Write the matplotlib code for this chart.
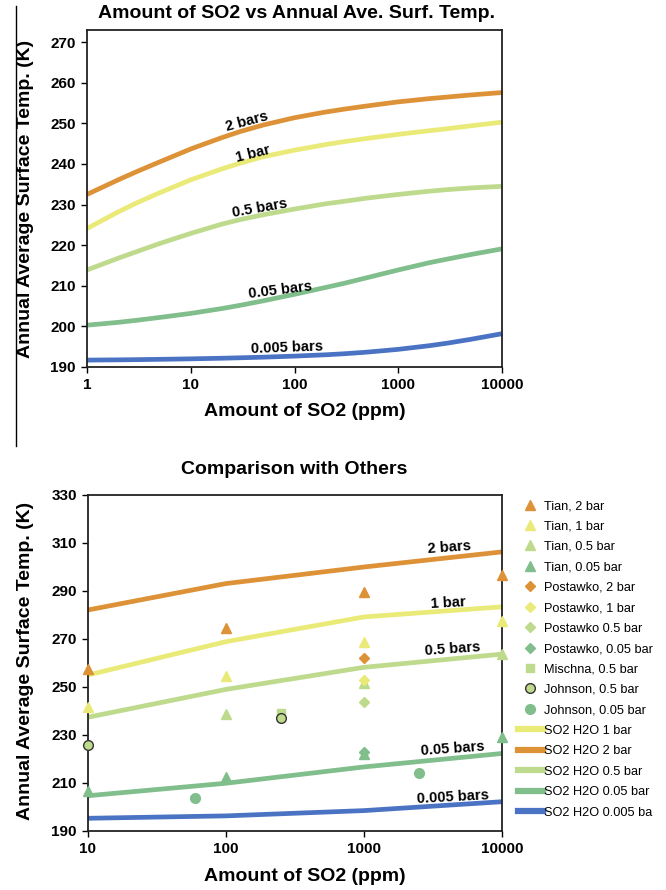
"""Recreate the SO2 vs annual average surface temperature figure (two panels)."""

import matplotlib

matplotlib.use("Agg")
import matplotlib.pyplot as plt
from matplotlib.lines import Line2D

plt.rcParams["font.family"] = ["Liberation Sans", "DejaVu Sans"]

# ---- top panel: smoothed model curves ----
top_ppm = [1, 2, 3, 5, 10, 20, 30, 50, 100, 200, 300, 500, 1000, 2000, 3000, 5000, 10000]
top_2bar = [232.5, 236.1, 238.1, 240.5, 243.7, 246.5, 248.0, 249.6, 251.4,
            252.8, 253.5, 254.3, 255.3, 256.1, 256.5, 257.0, 257.6]
top_1bar = [224.1, 228.2, 230.4, 232.9, 236.1, 238.8, 240.2, 241.8, 243.4,
            244.8, 245.5, 246.3, 247.3, 248.2, 248.7, 249.4, 250.3]
top_05bar = [213.9, 216.8, 218.4, 220.4, 222.9, 225.2, 226.3, 227.5, 228.9,
             230.2, 230.8, 231.6, 232.5, 233.3, 233.7, 234.1, 234.5]
top_005bar = [200.3, 201.0, 201.5, 202.2, 203.2, 204.4, 205.2, 206.3, 207.9,
              209.6, 210.6, 212.0, 213.9, 215.7, 216.6, 217.7, 219.1]
top_0005bar = [191.7, 191.76, 191.81, 191.89, 192.01, 192.16, 192.27, 192.42, 192.68,
               193.01, 193.26, 193.66, 194.35, 195.25, 195.89, 196.82, 198.2]

# ---- bottom panel: model lines ----
bot_ppm = [10, 100, 1000, 10000]
bot_2bar = [282.1, 293.1, 300.0, 306.3]
bot_1bar = [255.0, 268.9, 279.2, 283.4]
bot_05bar = [237.4, 249.0, 258.2, 263.7]
bot_005bar = [204.7, 209.9, 216.7, 222.3]
bot_0005bar = [195.3, 196.3, 198.5, 202.2]

# ---- bottom panel: other studies ----
tian_2_x, tian_2_y = [10, 100, 1000, 10000], [257.5, 274.7, 289.7, 296.7]
tian_1_x, tian_1_y = [10, 100, 1000, 10000], [241.5, 254.7, 268.9, 277.6]
tian_05_x, tian_05_y = [100, 1000, 10000], [238.7, 251.8, 263.7]
tian_005_x, tian_005_y = [10, 100, 1000, 10000], [206.7, 212.6, 222.1, 229.2]
post_2_x, post_2_y = [1000], [261.9]
post_1_x, post_1_y = [1000], [253.1]
post_05_x, post_05_y = [1000], [243.9]
post_005_x, post_005_y = [1000], [223.0]
mischna_x, mischna_y = [250], [239.0]
johnson_05_x, johnson_05_y = [10, 250], [225.8, 236.9]
johnson_005_x, johnson_005_y = [60, 2500], [203.9, 214.0]

C2 = "#DD9237"
C1 = "#EAEA78"
C05 = "#BEDA8C"
C005 = "#80BE8C"
C0005 = "#4B73C3"

fig = plt.figure(figsize=(6.66, 8.90), dpi=100)
W, H = 666, 890


def px_axes(left, top, right, bottom):
    return fig.add_axes([left / W, 1 - bottom / H, (right - left) / W, (bottom - top) / H])


def style_axes(ax, xticks, yticks):
    ax.set_xscale("log")
    ax.set_xticks(xticks)
    ax.set_xticklabels([str(t) for t in xticks])
    ax.xaxis.set_minor_locator(matplotlib.ticker.NullLocator())
    ax.set_yticks(yticks)
    ax.set_yticklabels([str(t) for t in yticks])
    for s in ax.spines.values():
        s.set_linewidth(1.3)
        s.set_color("#222222")
    ax.tick_params(direction="out", length=4, width=1, labelsize=11, pad=4)
    for lab in ax.get_xticklabels() + ax.get_yticklabels():
        lab.set_fontweight("bold")


lw = 3.4
line_kw = dict(lw=lw, solid_capstyle="butt", solid_joinstyle="round")
lab_kw = dict(fontsize=10.5, fontweight="bold", ha="center", va="center")
big = dict(fontsize=14, fontweight="bold")

# top panel
ax1 = px_axes(87, 30, 502, 367)
ax1.plot(top_ppm, top_2bar, color=C2, **line_kw)
ax1.plot(top_ppm, top_1bar, color=C1, **line_kw)
ax1.plot(top_ppm, top_05bar, color=C05, **line_kw)
ax1.plot(top_ppm, top_005bar, color=C005, **line_kw)
ax1.plot(top_ppm, top_0005bar, color=C0005, **line_kw)
ax1.set_xlim(1, 10000)
ax1.set_ylim(190, 273)
style_axes(ax1, [1, 10, 100, 1000, 10000], list(range(190, 271, 10)))

ax1.text(35, 250.4, "2 bars", rotation=15, **lab_kw)
ax1.text(39.5, 242.5, "1 bar", rotation=14, **lab_kw)
ax1.text(46, 229.2, "0.5 bars", rotation=10, **lab_kw)
ax1.text(73, 209.0, "0.05 bars", rotation=7, **lab_kw)
ax1.text(84, 194.7, "0.005 bars", rotation=2, **lab_kw)

ax1.set_ylabel("Annual Average Surface Temp. (K)", **big)
ax1.yaxis.set_label_coords(-0.128, 0.5)
ax1.set_xlabel("Amount of SO2 (ppm)", **big)
ax1.xaxis.set_label_coords(0.525, -0.107)
fig.text(296 / W, 1 - 14 / H, "Amount of SO2 vs Annual Ave. Surf. Temp.",
         ha="center", va="center", **big)

# bottom panel
ax2 = px_axes(88, 495, 502, 831)
ax2.plot(bot_ppm, bot_1bar, color=C1, **line_kw)
ax2.plot(bot_ppm, bot_2bar, color=C2, **line_kw)
ax2.plot(bot_ppm, bot_05bar, color=C05, **line_kw)
ax2.plot(bot_ppm, bot_005bar, color=C005, **line_kw)
ax2.plot(bot_ppm, bot_0005bar, color=C0005, **line_kw)

mk = dict(linestyle="none", clip_on=False, zorder=5)
h_t2, = ax2.plot(tian_2_x, tian_2_y, marker="^", ms=6.5, color=C2, **mk)
h_t1, = ax2.plot(tian_1_x, tian_1_y, marker="^", ms=6.5, color=C1, **mk)
h_t05, = ax2.plot(tian_05_x, tian_05_y, marker="^", ms=6.5, color=C05, **mk)
h_t005, = ax2.plot(tian_005_x, tian_005_y, marker="^", ms=6.5, color=C005, **mk)
h_p2, = ax2.plot(post_2_x, post_2_y, marker="D", ms=5, color=C2, **mk)
h_p1, = ax2.plot(post_1_x, post_1_y, marker="D", ms=5, color=C1, **mk)
h_p05, = ax2.plot(post_05_x, post_05_y, marker="D", ms=5, color=C05, **mk)
h_p005, = ax2.plot(post_005_x, post_005_y, marker="D", ms=5, color=C005, **mk)
h_m, = ax2.plot(mischna_x, mischna_y, marker="s", ms=6, color=C05, **mk)
h_j05, = ax2.plot(johnson_05_x, johnson_05_y, marker="o", ms=7, color=C05,
                  markeredgecolor="#333333", markeredgewidth=1.0, **mk)
h_j005, = ax2.plot(johnson_005_x, johnson_005_y, marker="o", ms=7, color=C005, **mk)

ax2.set_xlim(10, 10000)
ax2.set_ylim(190, 330)
style_axes(ax2, [10, 100, 1000, 10000], list(range(190, 331, 20)))

ax2.text(4130, 308.3, "2 bars", rotation=4, **lab_kw)
ax2.text(4060, 285.0, "1 bar", rotation=3, **lab_kw)
ax2.text(4350, 265.8, "0.5 bars", rotation=4, **lab_kw)
ax2.text(4420, 224.2, "0.05 bars", rotation=4, **lab_kw)
ax2.text(4420, 204.2, "0.005 bars", rotation=3, **lab_kw)

ax2.set_ylabel("Annual Average Surface Temp. (K)", **big)
ax2.yaxis.set_label_coords(-0.130, 0.506)
ax2.set_xlabel("Amount of SO2 (ppm)", **big)
ax2.xaxis.set_label_coords(0.524, -0.11)
fig.text(294 / W, 1 - 469 / H, "Comparison with Others",
         ha="center", va="center", **big)

handles = [h_t2, h_t1, h_t05, h_t005, h_p2, h_p1, h_p05, h_p005, h_m, h_j05, h_j005,
           Line2D([], [], color=C1, lw=4.5), Line2D([], [], color=C2, lw=4.5),
           Line2D([], [], color=C05, lw=4.5), Line2D([], [], color=C005, lw=4.5),
           Line2D([], [], color=C0005, lw=4.5)]
labels = ["Tian, 2 bar", "Tian, 1 bar", "Tian, 0.5 bar", "Tian, 0.05 bar",
          "Postawko, 2 bar", "Postawko, 1 bar", "Postawko 0.5 bar", "Postawko, 0.05 bar",
          "Mischna, 0.5 bar", "Johnson, 0.5 bar", "Johnson, 0.05 bar",
          "SO2 H2O 1 bar", "SO2 H2O 2 bar", "SO2 H2O 0.5 bar", "SO2 H2O 0.05 bar",
          "SO2 H2O 0.005 ba"]
fig.legend(handles, labels, loc="upper left", bbox_to_anchor=(518 / W, 1 - 500 / H),
           frameon=False, fontsize=9.2, handlelength=1.95, handletextpad=0.08,
           labelspacing=0.66, borderpad=0, borderaxespad=0)

# thin vertical rule at the left edge of the page
fig.add_artist(Line2D([16 / W, 16 / W], [1 - 6 / H, 1 - 446 / H], color="black", lw=1.0))

fig.savefig("out.png", dpi=100)
